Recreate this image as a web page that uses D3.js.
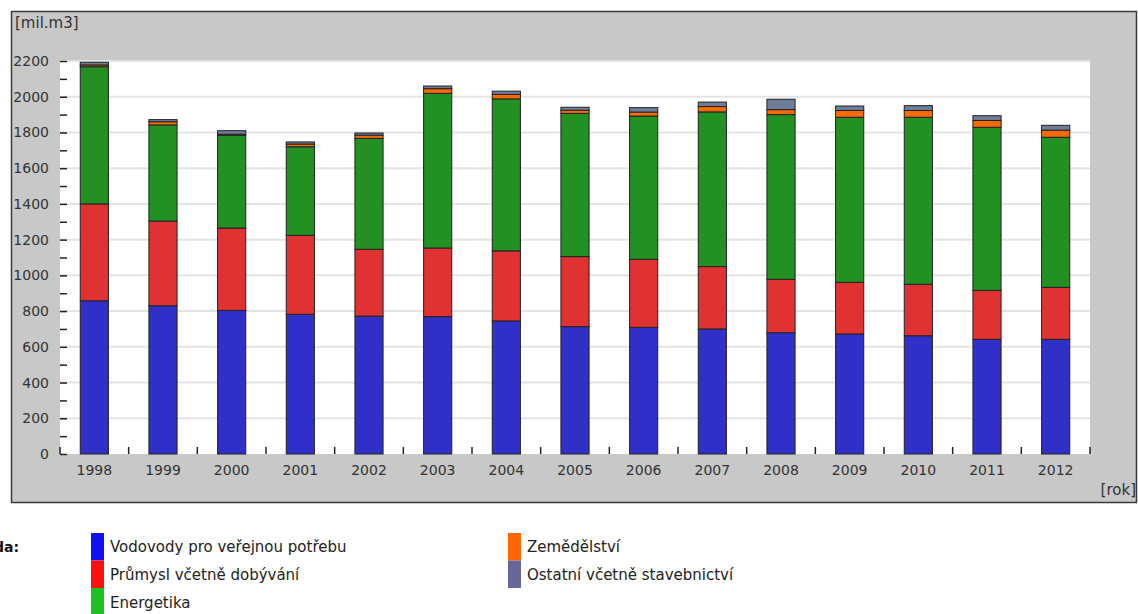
<!DOCTYPE html>
<html>
<head>
<meta charset="utf-8">
<script src="https://cdn.jsdelivr.net/npm/d3@7"></script>
<style>
  html, body { margin: 0; padding: 0; background: #fff; }
  svg { display: block; }
  text { font-family: "DejaVu Sans", Verdana, sans-serif; }
</style>
</head>
<body>
<svg id="chart" width="1138" height="614"></svg>
<script>
const years = ["1998","1999","2000","2001","2002","2003","2004","2005","2006","2007","2008","2009","2010","2011","2012"];
const vodovody = [858, 830, 804, 782, 772, 769, 745, 713, 709, 700, 679, 672, 662, 642, 642];
const prumysl  = [542, 474, 461, 442, 374, 384, 392, 392, 381, 349, 299, 289, 288, 274, 291];
const energetika = [768, 538, 519, 496, 621, 866, 851, 802, 802, 866, 922, 924, 935, 913, 840];
const zemedelstvi = [10, 18, 6, 15, 18, 26, 25, 17, 22, 30, 28, 38, 38, 38, 40];
const ostatni = [15, 12, 20, 12, 12, 15, 18, 17, 25, 25, 58, 25, 27, 27, 27];
const yTicks = [0, 200, 400, 600, 800, 1000, 1200, 1400, 1600, 1800, 2000, 2200];
const seriesNames = ["Vodovody pro veřejnou potřebu", "Průmysl včetně dobývání", "Energetika", "Zemědělství", "Ostatní včetně stavebnictví"];
const seriesKeys = ["vodovody", "prumysl", "energetika", "zemedelstvi", "ostatni"];
const barColors = ["#3030c8", "#e03232", "#229022", "#ff6a00", "#6e7d99"];
const legendColors = ["#1010f0", "#ff1010", "#20c020", "#ff6600", "#666699"];

const rows = years.map((y, i) => ({
  year: y, vodovody: vodovody[i], prumysl: prumysl[i], energetika: energetika[i],
  zemedelstvi: zemedelstvi[i], ostatni: ostatni[i]
}));

const svg = d3.select("#chart");
const L = 60, R = 1090, T = 61, B = 454;

// outer gray panel
svg.append("rect").attr("x", 11.5).attr("y", 11.5).attr("width", 1125).attr("height", 491)
  .attr("fill", "#c8c8c8").attr("stroke", "#3a3a3a").attr("stroke-width", 1.5);
// plot area
svg.append("rect").attr("x", L).attr("y", T).attr("width", R - L).attr("height", B - T).attr("fill", "#fff");

const x = d3.scaleBand().domain(years).range([L, R]).paddingInner(0.59).paddingOuter(0.295);
const y = d3.scaleLinear().domain([0, 2200]).range([B, T]);
const step = (R - L) / years.length;

// gridlines
svg.append("g").selectAll("line").data(yTicks.filter(d => d > 0)).join("line")
  .attr("x1", L).attr("x2", R).attr("y1", d => y(d)).attr("y2", d => y(d))
  .attr("stroke", "#e4e4e4").attr("stroke-width", 2);

// bars
const stacked = d3.stack().keys(seriesKeys)(rows);
svg.append("g").selectAll("g").data(stacked).join("g")
  .attr("fill", (d, i) => barColors[i])
  .selectAll("rect").data(d => d).join("rect")
  .attr("x", d => x(d.data.year))
  .attr("width", x.bandwidth())
  .attr("y", d => y(d[1]))
  .attr("height", d => y(d[0]) - y(d[1]))
  .attr("stroke", "#222").attr("stroke-width", 1);

// y axis (ticks inside to the right, no domain line)
const yAxis = d3.axisLeft(y).tickValues(d3.range(0, 2201, 100)).tickSize(-7)
  .tickFormat(d => (d % 200 === 0 ? d : ""));
const gy = svg.append("g").attr("transform", `translate(${L},0)`).call(yAxis);
gy.select(".domain").remove();
gy.selectAll(".tick line").attr("stroke", "#222").attr("stroke-width", 1.5);
gy.selectAll(".tick text").attr("x", -11).attr("font-size", 14).attr("fill", "#333")
  .attr("font-family", "DejaVu Sans, Verdana, sans-serif");

// x axis: labels at band centres, ticks at band boundaries
const gx = svg.append("g").attr("transform", `translate(0,${B})`).call(d3.axisBottom(x).tickSize(0).tickPadding(11));
gx.select(".domain").remove();
gx.selectAll(".tick text").attr("font-size", 14).attr("fill", "#333")
  .attr("font-family", "DejaVu Sans, Verdana, sans-serif");
const bounds = d3.range(0, years.length + 1).map(i => L + i * step);
svg.append("g").selectAll("line").data(bounds).join("line")
  .attr("x1", d => d).attr("x2", d => d).attr("y1", B).attr("y2", B - 7)
  .attr("stroke", "#222").attr("stroke-width", 1.5);

// unit labels
svg.append("text").attr("x", 15).attr("y", 28).attr("font-size", 15).attr("fill", "#333").text("[mil.m3]");
svg.append("text").attr("x", 1136).attr("y", 495).attr("text-anchor", "end").attr("font-size", 15).attr("fill", "#333").text("[rok]");

// legend
svg.append("text").attr("x", 19).attr("y", 552).attr("text-anchor", "end").attr("font-size", 14)
  .attr("font-weight", "bold").attr("fill", "#111").text("Legenda:");
const legendPos = [
  {sx: 91, tx: 110, row: 0}, {sx: 91, tx: 110, row: 1}, {sx: 91, tx: 110, row: 2},
  {sx: 508, tx: 527, row: 0}, {sx: 508, tx: 527, row: 1}
];
const lg = svg.append("g").selectAll("g").data(seriesNames).join("g");
lg.append("rect")
  .attr("x", (d, i) => legendPos[i].sx).attr("y", (d, i) => 533 + legendPos[i].row * 27.5)
  .attr("width", 13).attr("height", 27.5)
  .attr("fill", (d, i) => legendColors[i]);
lg.append("text")
  .attr("x", (d, i) => legendPos[i].tx).attr("y", (d, i) => 552 + legendPos[i].row * 28)
  .attr("font-size", 15).attr("fill", "#222").text(d => d);
</script>
</body>
</html>
